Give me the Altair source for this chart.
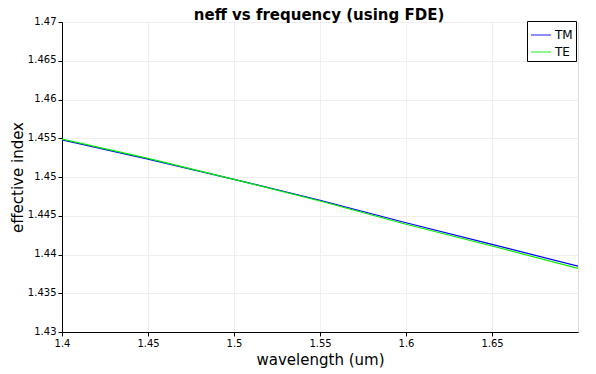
import altair as alt
import pandas as pd

wavelength = [1.40, 1.45, 1.50, 1.55, 1.60, 1.65, 1.70]
neff_tm = [1.4548, 1.4523, 1.4497, 1.4470, 1.4441, 1.4413, 1.4385]
neff_te = [1.4549, 1.4524, 1.4497, 1.4469, 1.4439, 1.4411, 1.4382]
series = ["TM", "TE"]
colors = ["#0000ff", "#00ee00"]
x_ticks = [1.4, 1.45, 1.5, 1.55, 1.6, 1.65]
y_ticks = [1.43, 1.435, 1.44, 1.445, 1.45, 1.455, 1.46, 1.465, 1.47]
title_text = ["neff vs frequency (using FDE)"]

rows = []
for w, v in zip(wavelength, neff_tm):
    rows.append({"wavelength": w, "neff": v, "mode": "TM"})
for w, v in zip(wavelength, neff_te):
    rows.append({"wavelength": w, "neff": v, "mode": "TE"})
df = pd.DataFrame(rows)

font = "DejaVu Sans"

lines = alt.Chart(df).mark_line(strokeWidth=1.2, clip=True).encode(
    x=alt.X("wavelength:Q", scale=alt.Scale(domain=[1.4, 1.7], nice=False, zero=False),
            axis=alt.Axis(title="wavelength (um)", values=x_ticks, format="~g",
                          labelFont=font, labelFontSize=10, labelColor="#000",
                          titleFont=font, titleFontSize=15, titleFontWeight="normal",
                          titleColor="#000", domainColor="#000", tickColor="#000",
                          tickSize=4, labelPadding=2, titlePadding=4,
                          gridColor="#efefef", labelFlush=False)),
    y=alt.Y("neff:Q", scale=alt.Scale(domain=[1.43, 1.47], nice=False, zero=False),
            axis=alt.Axis(title="effective index", values=y_ticks, format="~g",
                          labelFont=font, labelFontSize=10, labelColor="#000",
                          titleFont=font, titleFontSize=15, titleFontWeight="normal",
                          titleColor="#000", domainColor="#000", tickColor="#000",
                          tickSize=4, labelPadding=2, titlePadding=2,
                          labelBaseline="alphabetic", labelOffset=2,
                          gridColor="#efefef", labelFlush=False)),
    color=alt.Color("mode:N", scale=alt.Scale(domain=series, range=colors),
                    legend=alt.Legend(title=None, orient="none", legendX=465, legendY=-1,
                                      strokeColor="#000", fillColor="#fff", padding=3,
                                      symbolType="stroke", symbolSize=400,
                                      symbolStrokeWidth=1.5, symbolOpacity=0.6,
                                      labelFont=font, labelFontSize=12, labelColor="#000",
                                      rowPadding=-2, labelOffset=3)),
    order=alt.Order("mode:N", sort="descending"),
)

title = alt.Chart(pd.DataFrame({"t": title_text})).mark_text(
    font=font, fontSize=15, fontWeight="bold", color="#000",
    align="center", baseline="alphabetic",
).encode(text="t:N", x=alt.value(257), y=alt.value(-2))

chart = alt.layer(lines, title).properties(
    width=516, height=310,
    autosize=alt.AutoSizeParams(type="none"),
    padding={"left": 54, "top": 14, "right": 10, "bottom": 40},
).configure_view(stroke=None).configure(background="#fff")

chart.save("out.html", embed_options={"renderer": "svg", "actions": False})
